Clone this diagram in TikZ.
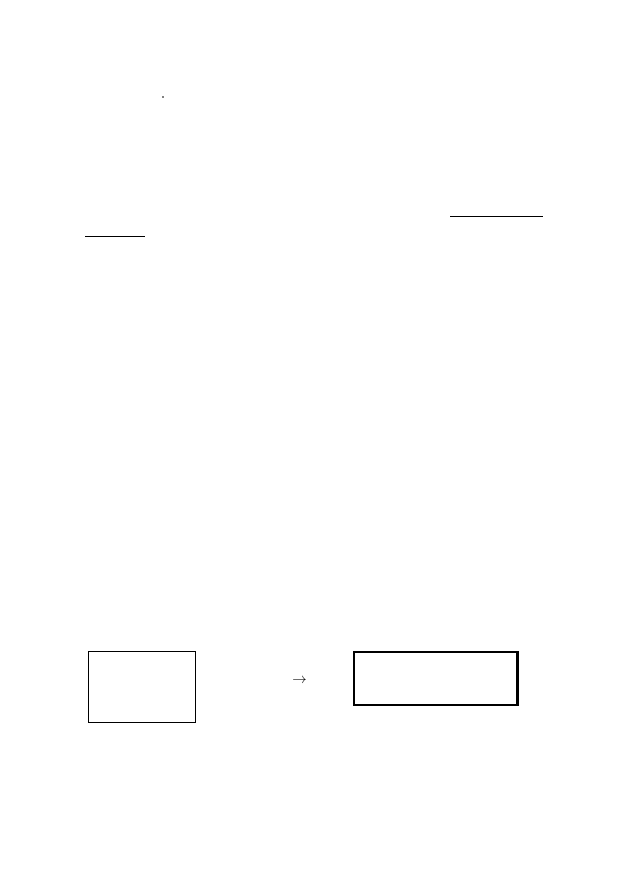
\documentclass[tikz,border=0pt]{standalone}
\usepackage{amsmath,amssymb}
\usepackage{tikz}
\usetikzlibrary{positioning}
\tikzset{
	frame/.style={draw=black, line width=1pt, inner sep=0pt},
	rule/.style={draw=black, line width=1pt},
}
\begin{document}
\begin{tikzpicture}[x=1pt, y=-1pt]
	\useasboundingbox (0,0) rectangle (629,893);
	\fill (163,97) circle (0.9);
	\coordinate (ruleAa) at (450,217);
	\coordinate (ruleAb) at (543,217);
	\coordinate (ruleBa) at (85,236);
	\coordinate (ruleBb) at (145,236);
	\draw[rule] (ruleAa)--(ruleAb);
	\draw[rule] (ruleBa)--(ruleBb);
	\node[frame, minimum width=107pt, minimum height=71pt] (left) at (141.5,686.5) {};
	\node[frame, line width=1.3pt, minimum width=163pt, minimum height=53pt] (right) at (435.5,678.5) {};
	\draw[line width=2pt] (right.north east)--(right.south east);
	\node at (299.5,681) {\Large$\rightarrow$};
\end{tikzpicture}
\end{document}
